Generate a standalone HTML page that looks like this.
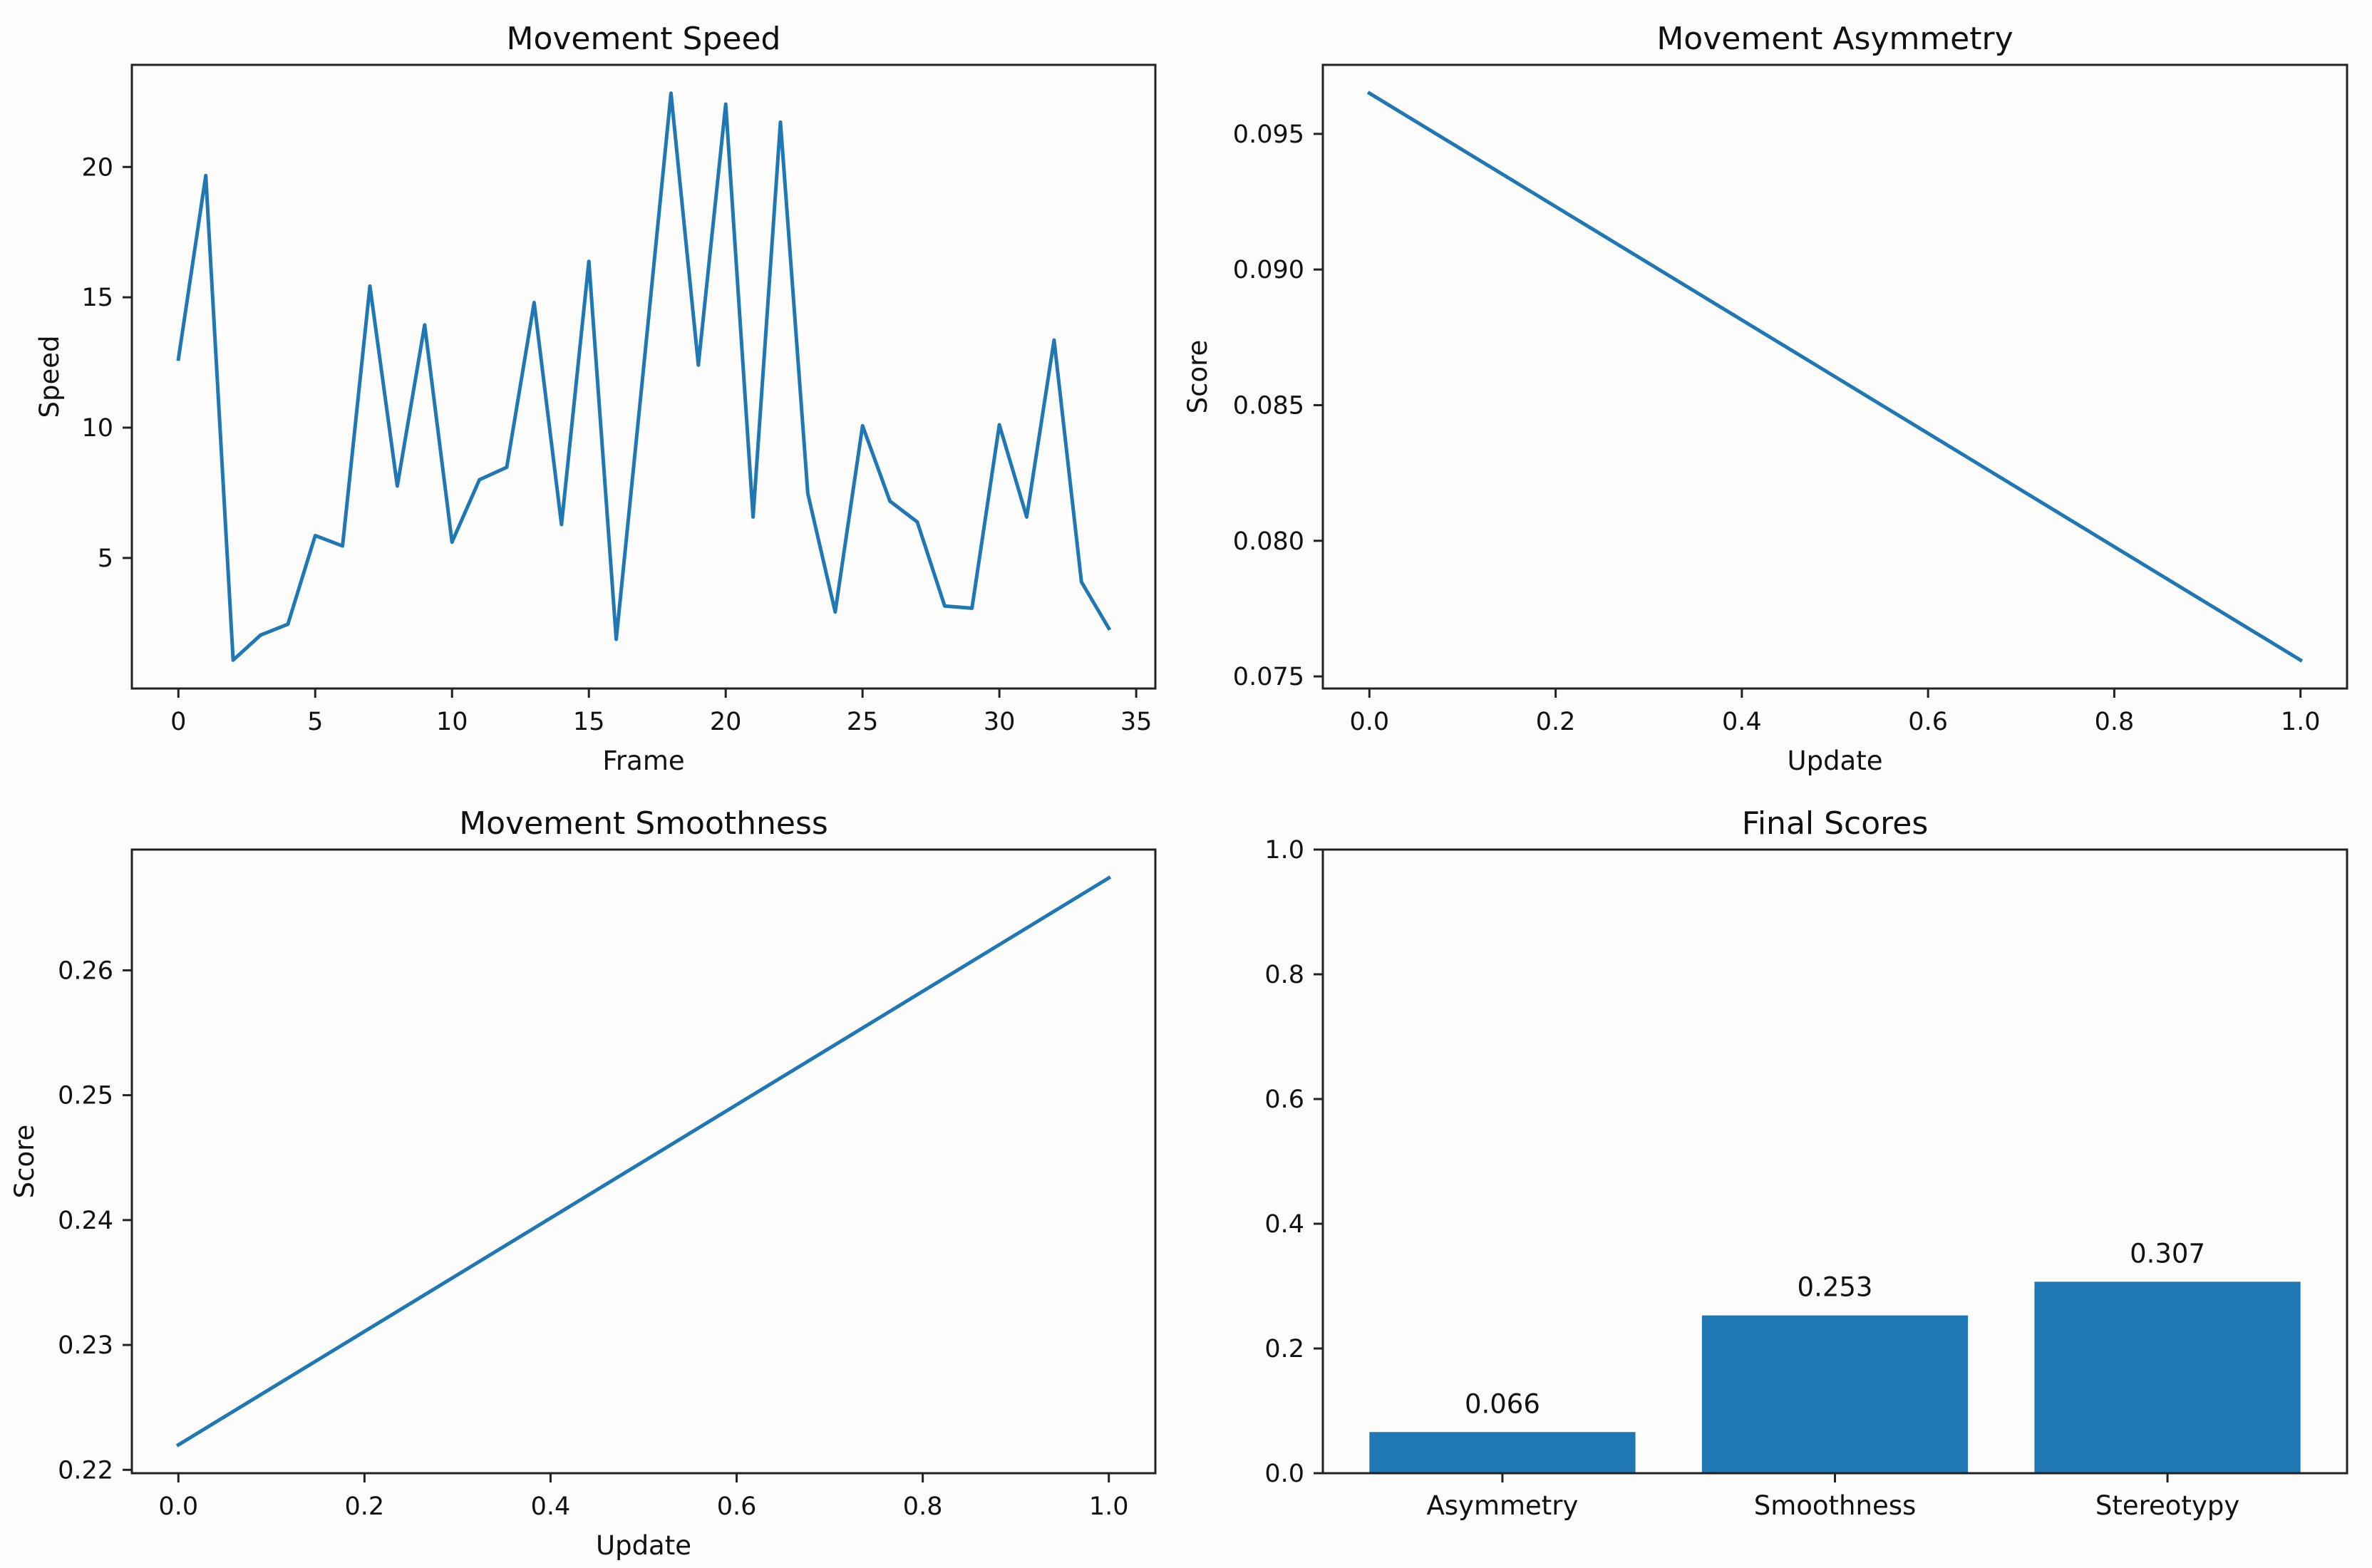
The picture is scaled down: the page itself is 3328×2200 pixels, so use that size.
<!DOCTYPE html>
<html><head><meta charset="utf-8"><style>
html,body{margin:0;padding:0;background:#fcfcfa;}
svg{display:block;font-family:"DejaVu Sans","Liberation Sans",sans-serif;}
</style></head><body>
<svg id="fig" width="3328" height="2200" viewBox="0 0 3328 2200" xmlns="http://www.w3.org/2000/svg">
<rect x="0" y="0" width="3328" height="2200" fill="#fcfcfa"/>
</svg>
<script>
// ---- data ----
const speedFrames = [0,1,2,3,4,5,6,7,8,9,10,11,12,13,14,15,16,17,18,19,20,21,22,23,24,25,26,27,28,29,30,31,32,33,34];
const speedValues = [12.63,19.67,1.08,2.04,2.46,5.86,5.46,15.43,7.76,13.94,5.61,8.0,8.48,14.8,6.28,16.38,1.88,12.3,22.83,12.4,22.41,6.57,21.72,7.47,2.93,10.07,7.18,6.38,3.16,3.07,10.11,6.57,13.36,4.08,2.3];
const speedXTicks = [0,5,10,15,20,25,30,35];
const speedYTicks = [5,10,15,20];
const asymUpdates = [0,1];
const asymValues = [0.0965,0.0756];
const asymXTicks = [0,0.2,0.4,0.6,0.8,1.0];
const asymYTicks = [0.075,0.080,0.085,0.090,0.095];
const smoothUpdates = [0,1];
const smoothValues = [0.222,0.2674];
const smoothXTicks = [0,0.2,0.4,0.6,0.8,1.0];
const smoothYTicks = [0.22,0.23,0.24,0.25,0.26];
const barCategories = ["Asymmetry","Smoothness","Stereotypy"];
const barValues = [0.066,0.253,0.307];
const barLabels = ["0.066","0.253","0.307"];
const barYTicks = [0,0.2,0.4,0.6,0.8,1.0];

const NS = "http://www.w3.org/2000/svg";
const fig = document.getElementById('fig');
const BLUE = "#1f77b4";
function mk(tag, attrs, parent){
  const e = document.createElementNS(NS, tag);
  for (const k in attrs) e.setAttribute(k, attrs[k]);
  (parent||fig).appendChild(e);
  return e;
}
function txt(s, attrs, parent){ const e = mk('text', attrs, parent); e.textContent = s; return e; }

function linScale(d0,d1,r0,r1){ return v => r0 + (v-d0)/(d1-d0)*(r1-r0); }
function pad(min,max){ const m=(max-min)*0.05; return [min-m,max+m]; }

function axes(opt){
  const g = mk('g', {});
  
  
  const {x0,x1,y0,y1} = opt;
  const sx = linScale(opt.xlim[0],opt.xlim[1],x0,x1);
  const sy = linScale(opt.ylim[0],opt.ylim[1],y1,y0);
  // title
  const t = txt(opt.title, {x:(x0+x1)/2, y:y0-22, 'font-size':44, 'text-anchor':'middle', fill:'#111'}, g);
  
  
  // y ticks
  opt.yticks.forEach((v,i)=>{
    const y = sy(v);
    const tk = mk('line',{x1:x0-13,x2:x0,y1:y,y2:y,stroke:'#222','stroke-width':3},g);
    
    
    const l = txt(opt.yfmt(v),{x:x0-26,y:y+12,'font-size':35,'text-anchor':'end',fill:'#111'},g);
    
    
  });
  // x ticks
  if (opt.xticks) opt.xticks.forEach((v,i)=>{
    const x = sx(v);
    const tk = mk('line',{x1:x,x2:x,y1:y1,y2:y1+13,stroke:'#222','stroke-width':3},g);
    
    
    const l = txt(opt.xfmt(v),{x:x,y:y1+58,'font-size':35,'text-anchor':'middle',fill:'#111'},g);
    
    
  });
  if (opt.xlabel){
    const l = txt(opt.xlabel,{x:(x0+x1)/2,y:y1+114,'font-size':37,'text-anchor':'middle',fill:'#111'},g);
    
    
  }
  if (opt.ylabel){
    const cx = opt.ylabelX, cy=(y0+y1)/2;
    const l = txt(opt.ylabel,{x:cx,y:cy,'font-size':37,'text-anchor':'middle',fill:'#111',transform:`rotate(-90 ${cx} ${cy})`,dy:13},g);
    
    
  }
  return {g,sx,sy,frame:()=>{
    const r = mk('rect',{x:x0,y:y0,width:x1-x0,height:y1-y0,fill:'none',stroke:'#222','stroke-width':3},g);
    
    
  }};
}
function drawLine(ax, xs, ys, name){
  const d = xs.map((x,i)=>(i?'L':'M')+ax.sx(x).toFixed(1)+' '+ax.sy(ys[i]).toFixed(1)).join(' ');
  const p = mk('path',{d:d,fill:'none',stroke:BLUE,'stroke-width':5,'stroke-linejoin':'round','stroke-linecap':'square'},ax.g);
  
  
}
const L0=185, L1=1621, R0=1856, R1=3293, T0=91, T1=966, B0=1192, B1=2067;

// Speed
{
  const mn=Math.min(...speedValues), mx=Math.max(...speedValues);
  const ax = axes({name:'speed-chart',title:'Movement Speed',x0:L0,x1:L1,y0:T0,y1:T1,
    xlim:pad(Math.min(...speedFrames),Math.max(...speedFrames)), ylim:pad(mn,mx),
    xticks:speedXTicks, yticks:speedYTicks, xfmt:v=>String(v), yfmt:v=>String(v),
    xlabel:'Frame', ylabel:'Speed', ylabelX:69});
  drawLine(ax, speedFrames, speedValues, 'speed-line');
  ax.frame();
}
// Asymmetry
{
  const ax = axes({name:'asymmetry-chart',title:'Movement Asymmetry',x0:R0,x1:R1,y0:T0,y1:T1,
    xlim:pad(0,1), ylim:pad(Math.min(...asymValues),Math.max(...asymValues)),
    xticks:asymXTicks, yticks:asymYTicks, xfmt:v=>v.toFixed(1), yfmt:v=>v.toFixed(3),
    xlabel:'Update', ylabel:'Score', ylabelX:1680});
  drawLine(ax, asymUpdates, asymValues, 'asymmetry-line');
  ax.frame();
}
// Smoothness
{
  const ax = axes({name:'smoothness-chart',title:'Movement Smoothness',x0:L0,x1:L1,y0:B0,y1:B1,
    xlim:pad(0,1), ylim:pad(Math.min(...smoothValues),Math.max(...smoothValues)),
    xticks:smoothXTicks, yticks:smoothYTicks, xfmt:v=>v.toFixed(1), yfmt:v=>v.toFixed(2),
    xlabel:'Update', ylabel:'Score', ylabelX:34});
  drawLine(ax, smoothUpdates, smoothValues, 'smoothness-line');
  ax.frame();
}
// Final scores bar
{
  const n = barCategories.length;
  const ax = axes({name:'final-scores-chart',title:'Final Scores',x0:R0,x1:R1,y0:B0,y1:B1,
    xlim:[-0.4-0.14*(n-1+0.8)/2.8*1, n-1+0.4+0.14*(n-1+0.8)/2.8*1], ylim:[0,1],
    xticks:null, yticks:barYTicks, yfmt:v=>v.toFixed(1)});
  barCategories.forEach((c,i)=>{
    const xl = ax.sx(i-0.4), xr = ax.sx(i+0.4);
    const yt = ax.sy(barValues[i]), yb = ax.sy(0);
    const r = mk('rect',{x:xl,y:yt,width:xr-xl,height:yb-yt,fill:BLUE},ax.g);
    
    
    const v = txt(barLabels[i],{x:ax.sx(i),y:yt-27,'font-size':37,'text-anchor':'middle',fill:'#111'},ax.g);
    
    
    const tk = mk('line',{x1:ax.sx(i),x2:ax.sx(i),y1:B1,y2:B1+13,stroke:'#222','stroke-width':3},ax.g);
    
    
    const l = txt(c,{x:ax.sx(i),y:B1+58,'font-size':37,'text-anchor':'middle',fill:'#111'},ax.g);
    
    
  });
  ax.frame();
}
</script>
</body></html>
